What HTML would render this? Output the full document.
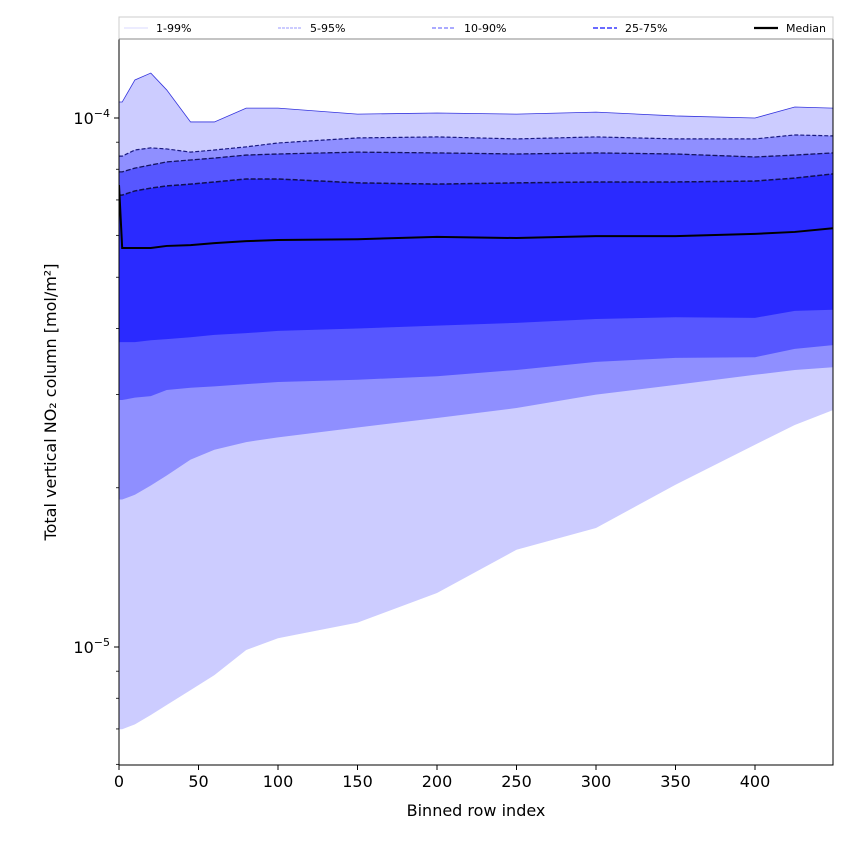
<!DOCTYPE html>
<html><head><meta charset="utf-8"><style>
body{margin:0;background:#fff}
svg text{font-family:"DejaVu Sans","Liberation Sans",sans-serif}
</style></head><body>
<svg id="c" width="850" height="850" xmlns="http://www.w3.org/2000/svg"></svg>
<script>
const xs=[0,2,10,20,30,45,60,80,100,150,200,250,300,350,400,425,449];
const p99=[1.072,1.072,1.18,1.216,1.13,0.983,0.983,1.044,1.044,1.017,1.022,1.017,1.026,1.009,1.0,1.049,1.044].map(v=>v*1e-4);
const p95=[0.847,0.847,0.870,0.878,0.874,0.862,0.870,0.882,0.897,0.917,0.921,0.913,0.921,0.913,0.913,0.929,0.925].map(v=>v*1e-4);
const p90=[0.791,0.791,0.804,0.815,0.826,0.833,0.840,0.851,0.855,0.862,0.859,0.855,0.859,0.855,0.844,0.851,0.859].map(v=>v*1e-4);
const p75=[0.715,0.715,0.728,0.737,0.744,0.750,0.757,0.767,0.767,0.754,0.750,0.754,0.757,0.757,0.760,0.770,0.784].map(v=>v*1e-4);
const med=[0.747,0.568,0.568,0.568,0.573,0.575,0.580,0.585,0.588,0.590,0.596,0.593,0.598,0.598,0.604,0.609,0.619].map(v=>v*1e-4);
const p25=[0.377,0.377,0.377,0.380,0.382,0.385,0.389,0.392,0.396,0.400,0.405,0.410,0.417,0.420,0.419,0.432,0.434].map(v=>v*1e-4);
const p10=[0.293,0.293,0.296,0.298,0.306,0.309,0.311,0.314,0.317,0.320,0.325,0.334,0.346,0.352,0.353,0.366,0.372].map(v=>v*1e-4);
const p5=[0.190,0.190,0.194,0.202,0.211,0.226,0.236,0.244,0.249,0.260,0.271,0.283,0.300,0.313,0.327,0.334,0.338].map(v=>v*1e-4);
const p1=[0.0699,0.0699,0.0714,0.0744,0.0777,0.0829,0.0885,0.0987,0.1039,0.1112,0.1265,0.1527,0.1679,0.2026,0.2412,0.2628,0.2804].map(v=>v*1e-4);
const xTicks=[0,50,100,150,200,250,300,350,400];
const yMajor=[-4,-5];

const L=119,R=833,T=39,B=765;
const X=v=>L+(v-0)*(755-119)/400;
const Y=v=>118+(-4-Math.log10(v))*529;
const svg=document.getElementById('c');
const NS='http://www.w3.org/2000/svg';
function el(t,a,p){const e=document.createElementNS(NS,t);for(const k in a)e.setAttribute(k,a[k]);(p||svg).appendChild(e);return e;}
const clip=el('clipPath',{id:'pc'});el('rect',{x:L,y:T,width:R-L,height:B-T},clip);
const g=el('g',{'clip-path':'url(#pc)'});
function band(lo,hi,fill,name){
  let d='M'+xs.map((x,i)=>X(x)+','+Y(hi[i])).join('L');
  for(let i=xs.length-1;i>=0;i--)d+='L'+X(xs[i])+','+Y(lo[i]);
  const p=el('path',{d:d+'Z',fill:fill},g);
  
  
}
function line(arr,stroke,w,dash,name){
  const p=el('path',{d:'M'+xs.map((x,i)=>X(x)+','+Y(arr[i])).join('L'),fill:'none',stroke:stroke,'stroke-width':w,'stroke-dasharray':dash},g);
  
  
}
band(p1,p99,'#ccccff','band-1-99');
band(p5,p95,'#8f8fff','band-5-95');
band(p10,p90,'#5757ff','band-10-90');
band(p25,p75,'#2a2aff','band-25-75');
line(p99,'#3333dd',0.8,'none','line-p99');
line(p95,'#1a1a80',1.2,'4,2','line-p95');
line(p90,'#141460',1.3,'5,2','line-p90');
line(p75,'#101050',1.5,'5,2','line-p75');
line(med,'#000',2,'none','line-median');
el('rect',{x:L,y:T,width:R-L,height:B-T,fill:'none',stroke:'#000','stroke-width':1});
xTicks.forEach(t=>{
  el('line',{x1:X(t),x2:X(t),y1:B,y2:B+5,stroke:'#000'});
  const tx=el('text',{x:X(t),y:B+22,'font-size':16,'text-anchor':'middle'});tx.textContent=t;
  
  
});
yMajor.forEach(e=>{
  const y=Y(Math.pow(10,e));
  el('line',{x1:L-5,x2:L,y1:y,y2:y,stroke:'#000'});
  const tx=el('text',{x:L-9,y:y+6,'font-size':16,'text-anchor':'end'});
  
  
  tx.innerHTML='10<tspan dy="-7" font-size="11">\u2212'+(-e)+'</tspan>';
  for(let m=2;m<10;m++){const v=m*Math.pow(10,e);const yy=Y(v);if(yy>T&&yy<B)el('line',{x1:L-3,x2:L,y1:yy,y2:yy,stroke:'#000','stroke-width':0.8});}
});
for(let m=6;m<10;m++){const yy=Y(m*1e-6);if(yy>T&&yy<B)el('line',{x1:L-3,x2:L,y1:yy,y2:yy,stroke:'#000','stroke-width':0.8});}
let t=el('text',{x:476,y:816,'font-size':16,'text-anchor':'middle'});t.textContent='Binned row index';

t=el('text',{x:56,y:402,'font-size':16,'text-anchor':'middle',transform:'rotate(-90 56 402)'});t.textContent='Total vertical NO₂ column [mol/m²]';

const lg=el('g',{});
el('rect',{x:119,y:17,width:714,height:22,fill:'#fff',stroke:'#ccc'},lg);
el('line',{x1:119,x2:833,y1:39,y2:39,stroke:'#888'},lg);
const leg=[['1-99%',124,'#d8d8ff','none',1],['5-95%',278,'#9999ff','3,1',1],['10-90%',432,'#7777ff','4,2',1.3],['25-75%',593,'#5555ff','5,2',1.8],['Median',754,'#000','none',2.2]];
leg.forEach(a=>{
  el('line',{x1:a[1],x2:a[1]+24,y1:28,y2:28,stroke:a[2],'stroke-dasharray':a[3],'stroke-width':a[4]},lg);
  const tx=el('text',{x:a[1]+32,y:32,'font-size':11},lg);tx.textContent=a[0];
  
});
</script>
</body></html>
